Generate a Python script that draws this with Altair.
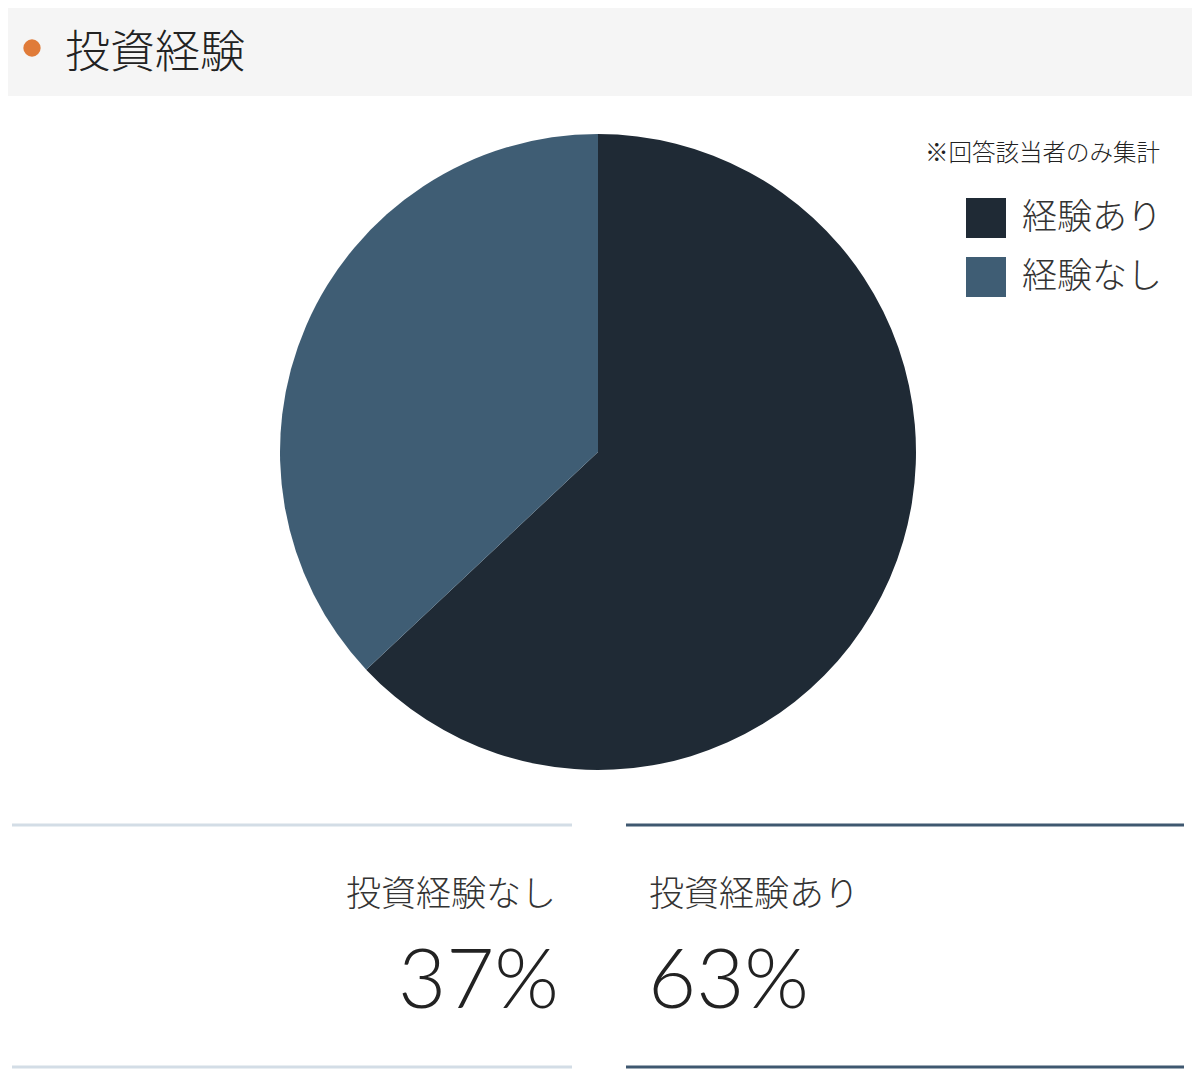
import altair as alt
import pandas as pd

# ---- data ----
categories = ["経験あり", "経験なし"]
values = [63, 37]
bottom_labels = ["投資経験あり", "投資経験なし"]
colors = ["#1f2a35", "#3f5d74"]
title_text = "投資経験"
note_text = "※回答該当者のみ集計"

df = pd.DataFrame({
    "category": categories,
    "value": values,
    "rank": [0, 1],
    "label": bottom_labels,
    "pct": [f"{v}%" for v in values],
})
one = pd.DataFrame({"k": [0]})

JP = "Noto Sans CJK JP"
W, H = 1184, 1074

# header background
header_bg = alt.Chart(one).mark_rect(color="#f5f5f5").encode(
    x=alt.value(-8), x2=alt.value(W + 8), y=alt.value(-8), y2=alt.value(88)
)
header_dot = alt.Chart(one).mark_point(
    filled=True, shape="circle", size=300, color="#e07b39", opacity=1
).encode(x=alt.value(24), y=alt.value(40))
header_text = alt.Chart(one).mark_text(
    text=title_text, font=JP, fontSize=45, fontWeight=300, align="left",
    baseline="middle", color="#222222"
).encode(x=alt.value(57), y=alt.value(46))

# pie
pie = alt.Chart(df).mark_arc(radius=318, stroke=None).encode(
    theta=alt.Theta("value:Q", stack=True),
    order=alt.Order("rank:Q", sort="ascending"),
    color=alt.Color(
        "category:N",
        sort=categories,
        scale=alt.Scale(domain=categories, range=colors),
        legend=alt.Legend(
            orient="none", legendX=958, legendY=190, title=None,
            symbolType="square", symbolSize=1600, symbolStrokeWidth=0,
            symbolOpacity=1, labelFont=JP, labelFontSize=35, labelFontWeight=300,
            labelColor="#333333", labelOffset=16, rowPadding=19, labelLimit=400,
        ),
    ),
    x=alt.value(590),
    y=alt.value(444),
)

note = alt.Chart(one).mark_text(
    text=note_text, font=JP, fontSize=23.5, fontWeight=300, align="right",
    baseline="middle", color="#222222"
).encode(x=alt.value(1152), y=alt.value(146))

# bottom rules
def rule(x1, x2, y, color):
    return alt.Chart(one).mark_rule(color=color, strokeWidth=3).encode(
        x=alt.value(x1), x2=alt.value(x2), y=alt.value(y)
    )

rules = [
    rule(4, 564, 817, "#d3dde6"),
    rule(618, 1176, 817, "#3f5870"),
    rule(4, 564, 1059, "#d3dde6"),
    rule(618, 1176, 1059, "#3f5870"),
]

left_lbl = alt.Chart(df).transform_filter(alt.datum.category == categories[1]).mark_text(
    font=JP, fontSize=35, fontWeight=300, align="right", baseline="middle", color="#333333"
).encode(text="label:N", x=alt.value(548), y=alt.value(887))
left_pct = alt.Chart(df).transform_filter(alt.datum.category == categories[1]).mark_text(
    font="Lato", fontWeight=300, fontSize=83, align="right", baseline="alphabetic", color="#222222"
).encode(text="pct:N", x=alt.value(551), y=alt.value(1000))
right_lbl = alt.Chart(df).transform_filter(alt.datum.category == categories[0]).mark_text(
    font=JP, fontSize=35, fontWeight=300, align="left", baseline="middle", color="#333333"
).encode(text="label:N", x=alt.value(641), y=alt.value(887))
right_pct = alt.Chart(df).transform_filter(alt.datum.category == categories[0]).mark_text(
    font="Lato", fontWeight=300, fontSize=83, align="left", baseline="alphabetic", color="#222222"
).encode(text="pct:N", x=alt.value(640), y=alt.value(1000))

chart = alt.layer(
    header_bg, header_dot, header_text, pie, note, *rules,
    left_lbl, left_pct, right_lbl, right_pct
).properties(
    width=W, height=H, padding=0, autosize="none", background="white"
).configure_view(strokeWidth=0)

chart.save("out.html", embed_options={"renderer": "svg", "actions": False})
